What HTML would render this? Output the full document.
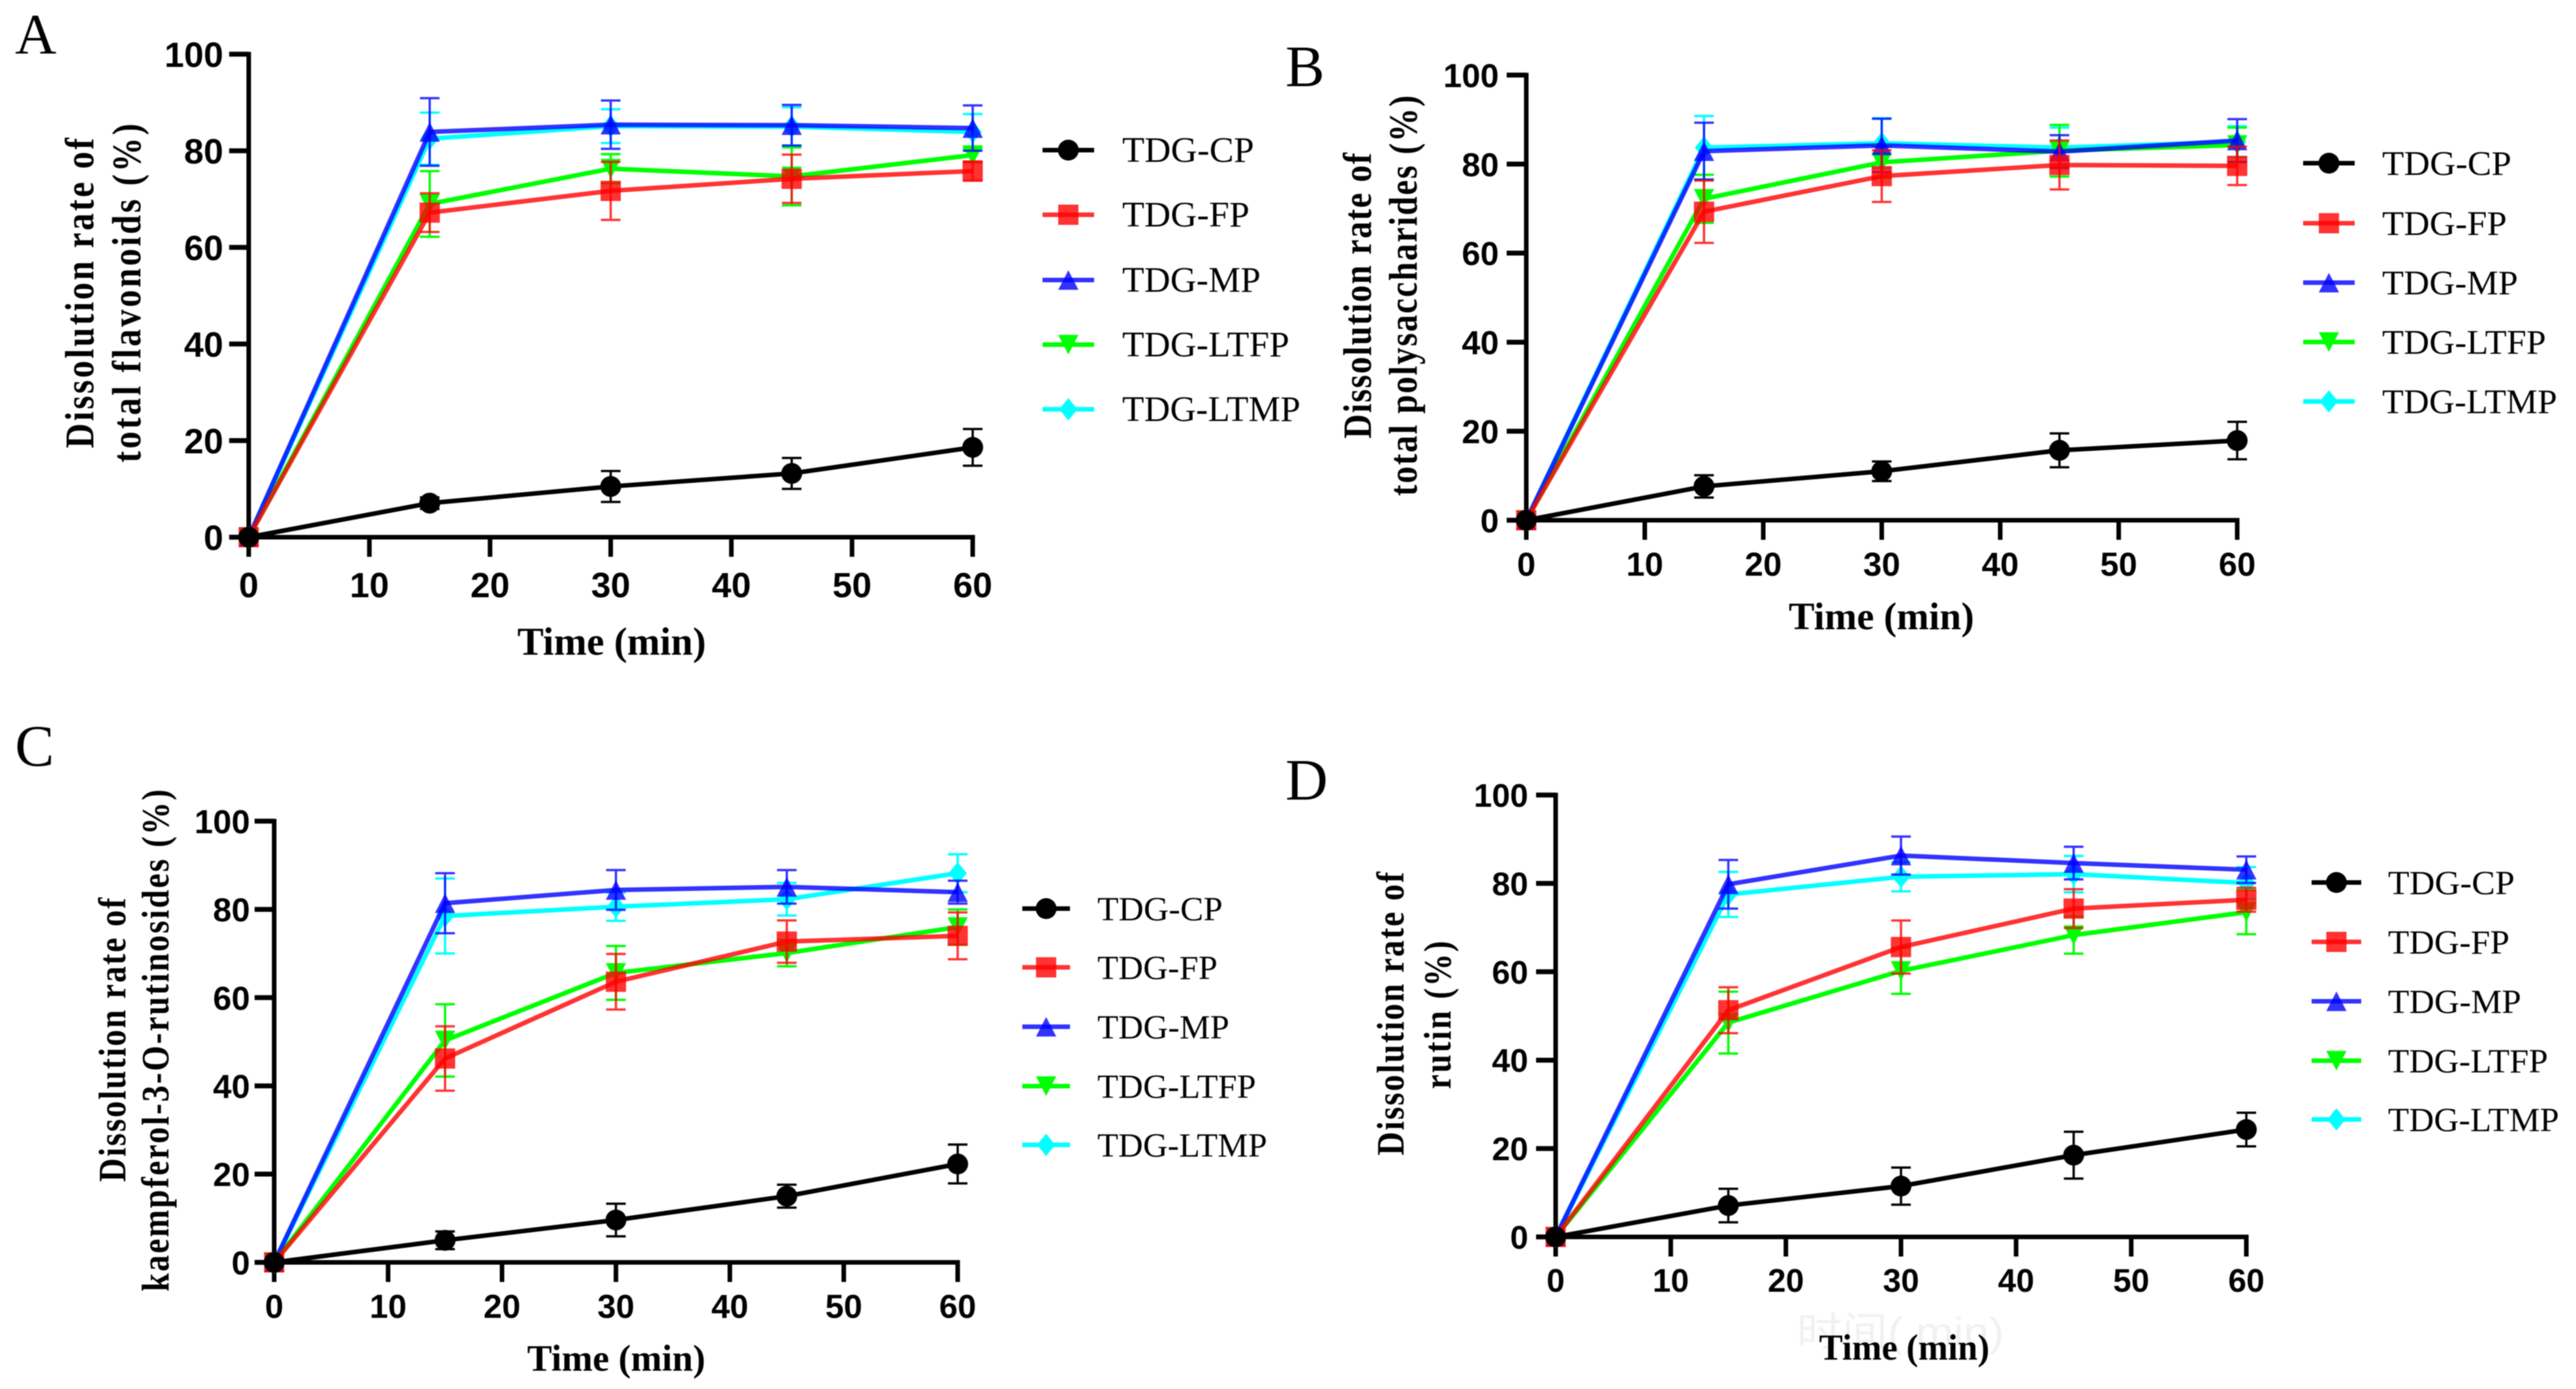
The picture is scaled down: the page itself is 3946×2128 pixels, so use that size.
<!DOCTYPE html>
<html lang="en">
<head>
<meta charset="utf-8">
<title>Dissolution rate charts</title>
<style>
html,body{margin:0;padding:0;background:#fff;}
#figure{display:block;width:3946px;height:2128px;background:#fff;filter:blur(0.7px);}
.serif{font-family:"Liberation Serif","Noto Serif CJK SC",serif;fill:#000;}
.title{font-weight:bold;}
.sans{font-family:"Liberation Sans",sans-serif;font-weight:bold;fill:#000;}
</style>
</head>
<body>
<svg id="figure" xmlns="http://www.w3.org/2000/svg" width="3946" height="2128" viewBox="0 0 3946 2128">
  <rect width="3946" height="2128" fill="#fff"/>

  <text x="2752" y="2062" font-size="62" textLength="318" lengthAdjust="spacingAndGlyphs" fill="#f1f1f1" style="font-family:'Liberation Sans','Noto Sans CJK SC',sans-serif">时间( min)</text>

  <g id="panel-a">
    <text class="serif" x="23" y="82" font-size="88">A</text>
    <text class="serif title" transform="translate(143,449) rotate(-90) scale(0.85,1)" text-anchor="middle" font-size="62" textLength="559" lengthAdjust="spacing">Dissolution rate of</text>
    <text class="serif title" transform="translate(215,449) rotate(-90) scale(0.85,1)" text-anchor="middle" font-size="62" textLength="611" lengthAdjust="spacing">total flavonoids (%)</text>
    <text class="serif title" x="937" y="1003" text-anchor="middle" font-size="60" textLength="289" lengthAdjust="spacingAndGlyphs">Time (min)</text>
    <text class="serif" x="1719" y="248" font-size="55" textLength="202" lengthAdjust="spacingAndGlyphs">TDG-CP</text>
    <text class="serif" x="1719" y="347" font-size="55" textLength="195" lengthAdjust="spacingAndGlyphs">TDG-FP</text>
    <text class="serif" x="1719" y="447" font-size="55" textLength="212" lengthAdjust="spacingAndGlyphs">TDG-MP</text>
    <text class="serif" x="1719" y="546" font-size="55" textLength="256" lengthAdjust="spacingAndGlyphs">TDG-LTFP</text>
    <text class="serif" x="1719" y="645" font-size="55" textLength="273" lengthAdjust="spacingAndGlyphs">TDG-LTMP</text>
  </g>

  <g id="panel-b">
    <text class="serif" x="1969" y="132" font-size="90">B</text>
    <text class="serif title" transform="translate(2100,453) rotate(-90) scale(0.85,1)" text-anchor="middle" font-size="61" textLength="515" lengthAdjust="spacing">Dissolution rate of</text>
    <text class="serif title" transform="translate(2170,453) rotate(-90) scale(0.85,1)" text-anchor="middle" font-size="61" textLength="722" lengthAdjust="spacing">total polysaccharides (%)</text>
    <text class="serif title" x="2882" y="964" text-anchor="middle" font-size="59" textLength="284" lengthAdjust="spacingAndGlyphs">Time (min)</text>
    <text class="serif" x="3649" y="268" font-size="53" textLength="198" lengthAdjust="spacingAndGlyphs">TDG-CP</text>
    <text class="serif" x="3649" y="360" font-size="53" textLength="191" lengthAdjust="spacingAndGlyphs">TDG-FP</text>
    <text class="serif" x="3649" y="451" font-size="53" textLength="208" lengthAdjust="spacingAndGlyphs">TDG-MP</text>
    <text class="serif" x="3649" y="542" font-size="53" textLength="251" lengthAdjust="spacingAndGlyphs">TDG-LTFP</text>
    <text class="serif" x="3649" y="633" font-size="53" textLength="268" lengthAdjust="spacingAndGlyphs">TDG-LTMP</text>
  </g>

  <g id="panel-c">
    <text class="serif" x="23" y="1173" font-size="90">C</text>
    <text class="serif title" transform="translate(192,1593) rotate(-90) scale(0.85,1)" text-anchor="middle" font-size="59" textLength="512" lengthAdjust="spacing">Dissolution rate of</text>
    <text class="serif title" transform="translate(258,1594) rotate(-90) scale(0.85,1)" text-anchor="middle" font-size="59" textLength="905" lengthAdjust="spacing">kaempferol-3-O-rutinosides (%)</text>
    <text class="serif title" x="944" y="2100" text-anchor="middle" font-size="57" textLength="273" lengthAdjust="spacingAndGlyphs">Time (min)</text>
    <text class="serif" x="1681" y="1410" font-size="52" textLength="192" lengthAdjust="spacingAndGlyphs">TDG-CP</text>
    <text class="serif" x="1681" y="1500" font-size="52" textLength="184" lengthAdjust="spacingAndGlyphs">TDG-FP</text>
    <text class="serif" x="1681" y="1591" font-size="52" textLength="202" lengthAdjust="spacingAndGlyphs">TDG-MP</text>
    <text class="serif" x="1681" y="1682" font-size="52" textLength="243" lengthAdjust="spacingAndGlyphs">TDG-LTFP</text>
    <text class="serif" x="1681" y="1772" font-size="52" textLength="260" lengthAdjust="spacingAndGlyphs">TDG-LTMP</text>
  </g>

  <g id="panel-d">
    <text class="serif" x="1969" y="1225" font-size="90">D</text>
    <text class="serif title" transform="translate(2150,1553) rotate(-90) scale(0.85,1)" text-anchor="middle" font-size="59" textLength="511" lengthAdjust="spacing">Dissolution rate of</text>
    <text class="serif title" transform="translate(2222,1555) rotate(-90) scale(0.85,1)" text-anchor="middle" font-size="59" textLength="267" lengthAdjust="spacing">rutin (%)</text>
    <text class="serif title" x="2917" y="2083" text-anchor="middle" font-size="56" textLength="261" lengthAdjust="spacingAndGlyphs">Time (min)</text>
    <text class="serif" x="3658" y="1370" font-size="52" textLength="194" lengthAdjust="spacingAndGlyphs">TDG-CP</text>
    <text class="serif" x="3658" y="1461" font-size="52" textLength="186" lengthAdjust="spacingAndGlyphs">TDG-FP</text>
    <text class="serif" x="3658" y="1552" font-size="52" textLength="204" lengthAdjust="spacingAndGlyphs">TDG-MP</text>
    <text class="serif" x="3658" y="1643" font-size="52" textLength="245" lengthAdjust="spacingAndGlyphs">TDG-LTFP</text>
    <text class="serif" x="3658" y="1733" font-size="52" textLength="262" lengthAdjust="spacingAndGlyphs">TDG-LTMP</text>
  </g>
</svg>

<script>
// Shared axes
const timePoints = [0, 15, 30, 45, 60];
const xTickLabels = [0, 10, 20, 30, 40, 50, 60];
const yTickLabels = [0, 20, 40, 60, 80, 100];

// Panel A: total flavonoids
const aCP = [0, 7.05, 10.5, 13.2, 18.6];
const aCPerr = [0, 1.2, 3.2, 3.2, 3.8];
const aFP = [0, 67.2, 71.7, 74.2, 75.8];
const aFPerr = [0, 4, 6, 5, 2];
const aMP = [0, 83.9, 85.4, 85.3, 84.7];
const aMPerr = [0, 7, 5, 4.2, 4.7];
const aLTFP = [0, 69, 76.3, 74.7, 79.1];
const aLTFPerr = [0, 6.8, 3, 6, 1.5];
const aLTMP = [0, 82.5, 85.1, 85, 83.9];
const aLTMPerr = [0, 5.4, 3.5, 4, 3.7];

// Panel B: total polysaccharides
const bCP = [0, 7.6, 11, 15.7, 17.9];
const bCPerr = [0, 2.5, 2.2, 3.8, 4.2];
const bFP = [0, 69.3, 77.3, 79.8, 79.6];
const bFPerr = [0, 7, 5.8, 5.5, 4.3];
const bMP = [0, 82.9, 84.2, 82.8, 85.3];
const bMPerr = [0, 6.4, 6, 3.7, 4.8];
const bLTFP = [0, 72.2, 80.4, 83, 84.3];
const bLTFPerr = [0, 5.4, 3.5, 5.8, 3.9];
const bLTMP = [0, 83.7, 84.7, 83.7, 85];
const bLTMPerr = [0, 7.1, 5.6, 4.5, 3.5];

// Panel C: kaempferol-3-O-rutinosides
const cCP = [0, 5, 9.6, 15, 22.3];
const cCPerr = [0, 2, 3.7, 2.6, 4.4];
const cFP = [0, 46.2, 63.6, 72.7, 74];
const cFPerr = [0, 7.3, 6.3, 4.8, 5.3];
const cMP = [0, 81.4, 84.4, 85.1, 83.9];
const cMPerr = [0, 6.8, 4.5, 3.8, 2.6];
const cLTFP = [0, 50.3, 65.6, 70.1, 76];
const cLTFPerr = [0, 8.2, 6.1, 3, 4];
const cLTMP = [0, 78.5, 80.6, 82.3, 88.2];
const cLTMPerr = [0, 8.5, 3.2, 3.7, 4.3];

// Panel D: rutin
const dCP = [0, 7.1, 11.5, 18.5, 24.3];
const dCPerr = [0, 3.8, 4.2, 5.3, 3.8];
const dFP = [0, 51.3, 65.6, 74.3, 76.3];
const dFPerr = [0, 5.2, 6, 4.4, 2.7];
const dMP = [0, 79.8, 86.3, 84.6, 83.1];
const dMPerr = [0, 5.5, 4.3, 3.7, 3];
const dLTFP = [0, 48.5, 60.2, 68.3, 73.5];
const dLTFPerr = [0, 7, 5.2, 4.2, 5];
const dLTMP = [0, 77.5, 81.5, 82.1, 80.1];
const dLTMPerr = [0, 5.1, 3.3, 4.1, 3.6];

const styles = {
  CP:   {color: '#000000', opacity: 1,    shape: 'circle'},
  FP:   {color: '#ff0000', opacity: 0.8,  shape: 'square'},
  MP:   {color: '#0000ff', opacity: 0.8,  shape: 'triangle'},
  LTFP: {color: '#00ff00', opacity: 1,    shape: 'invtriangle'},
  LTMP: {color: '#00ffff', opacity: 1,    shape: 'diamond'}
};

// Draw order back to front
const drawOrder = ['LTMP', 'LTFP', 'MP', 'FP', 'CP'];
const legendOrder = ['CP', 'FP', 'MP', 'LTFP', 'LTMP'];

const panels = [
  {id: 'panel-a', x0: 381, x60: 1490, y0: 823, y100: 83, tickFont: 54, yLabelRight: 342, xLabelY: 915,
   legendX1: 1597, legendX2: 1676, legendY: [230, 329, 429, 528, 627],
   data: {CP: [aCP, aCPerr], FP: [aFP, aFPerr], MP: [aMP, aMPerr], LTFP: [aLTFP, aLTFPerr], LTMP: [aLTMP, aLTMPerr]}},
  {id: 'panel-b', x0: 2338, x60: 3427, y0: 797, y100: 115, tickFont: 51, yLabelRight: 2296, xLabelY: 882,
   legendX1: 3528, legendX2: 3607, legendY: [250, 342, 433, 524, 615],
   data: {CP: [bCP, bCPerr], FP: [bFP, bFPerr], MP: [bMP, bMPerr], LTFP: [bLTFP, bLTFPerr], LTMP: [bLTMP, bLTMPerr]}},
  {id: 'panel-c', x0: 420, x60: 1467, y0: 1934, y100: 1258, tickFont: 51, yLabelRight: 383, xLabelY: 2019,
   legendX1: 1566, legendX2: 1639, legendY: [1392, 1482, 1573, 1664, 1754],
   data: {CP: [cCP, cCPerr], FP: [cFP, cFPerr], MP: [cMP, cMPerr], LTFP: [cLTFP, cLTFPerr], LTMP: [cLTMP, cLTMPerr]}},
  {id: 'panel-d', x0: 2383, x60: 3441, y0: 1895, y100: 1218, tickFont: 50, yLabelRight: 2341, xLabelY: 1979,
   legendX1: 3541, legendX2: 3617, legendY: [1352, 1443, 1534, 1625, 1715],
   data: {CP: [dCP, dCPerr], FP: [dFP, dFPerr], MP: [dMP, dMPerr], LTFP: [dLTFP, dLTFPerr], LTMP: [dLTMP, dLTMPerr]}}
];

const SVG_NS = 'http://www.w3.org/2000/svg';

function mk(parent, tag, attrs) {
  const node = document.createElementNS(SVG_NS, tag);
  for (const k in attrs) node.setAttribute(k, attrs[k]);
  parent.appendChild(node);
  return node;
}

function drawMarker(parent, shape, cx, cy, color, opacity) {
  let m;
  if (shape === 'circle') {
    m = mk(parent, 'circle', {cx: cx, cy: cy, r: 16, fill: color, 'fill-opacity': opacity});
  } else if (shape === 'square') {
    m = mk(parent, 'rect', {x: cx - 15.5, y: cy - 15.5, width: 31, height: 31, fill: color, 'fill-opacity': opacity});
  } else if (shape === 'triangle') {
    m = mk(parent, 'polygon', {points: (cx) + ',' + (cy - 15) + ' ' + (cx + 15.5) + ',' + (cy + 15) + ' ' + (cx - 15.5) + ',' + (cy + 15), fill: color, 'fill-opacity': opacity});
  } else if (shape === 'invtriangle') {
    m = mk(parent, 'polygon', {points: (cx) + ',' + (cy + 15) + ' ' + (cx + 15.5) + ',' + (cy - 15) + ' ' + (cx - 15.5) + ',' + (cy - 15), fill: color, 'fill-opacity': opacity});
  } else {
    m = mk(parent, 'polygon', {points: (cx) + ',' + (cy - 17) + ' ' + (cx + 14) + ',' + (cy) + ' ' + (cx) + ',' + (cy + 17) + ' ' + (cx - 14) + ',' + (cy), fill: color, 'fill-opacity': opacity});
  }
  
  
}

panels.forEach(function (p) {
  const root = document.getElementById(p.id);
  const xScale = function (v) { return p.x0 + (p.x60 - p.x0) * v / 60; };
  const yScale = function (v) { return p.y0 - (p.y0 - p.y100) * v / 100; };

  // Axes
  const axes = mk(root, 'g', {stroke: '#000', 'stroke-width': 7, fill: 'none'});
  
  

  const yLine = mk(axes, 'line', {x1: p.x0, x2: p.x0, y1: yScale(100) - 3.5, y2: yScale(0) + 3.5});
  
  

  const xLine = mk(axes, 'line', {x1: p.x0, x2: xScale(60) + 3.5, y1: yScale(0), y2: yScale(0)});
  
  

  yTickLabels.forEach(function (v) {
    const t = mk(axes, 'line', {x1: p.x0 - 30, x2: p.x0, y1: yScale(v), y2: yScale(v), 'stroke-width': 7.5});
    
    
    const l = mk(root, 'text', {x: p.yLabelRight, y: yScale(v) + p.tickFont * 0.36, 'text-anchor': 'end', 'font-size': p.tickFont, class: 'sans'});
    
    
    l.textContent = v;
  });

  xTickLabels.forEach(function (v) {
    const t = mk(axes, 'line', {x1: xScale(v), x2: xScale(v), y1: yScale(0), y2: yScale(0) + 30});
    
    
    const l = mk(root, 'text', {x: xScale(v), y: p.xLabelY, 'text-anchor': 'middle', 'font-size': p.tickFont, class: 'sans'});
    
    
    l.textContent = v;
  });

  // Series
  drawOrder.forEach(function (key) {
    const s = styles[key];
    const values = p.data[key][0];
    const errors = p.data[key][1];
    const g = mk(root, 'g', {});
    
    

    timePoints.forEach(function (t, i) {
      if (!errors[i]) return;
      const cx = xScale(t);
      const top = yScale(values[i] + errors[i]);
      const bottom = yScale(values[i] - errors[i]);
      const bar = mk(g, 'path', {
        d: 'M' + (cx - 15) + ' ' + top + 'H' + (cx + 15) + 'M' + cx + ' ' + top + 'V' + bottom + 'M' + (cx - 15) + ' ' + bottom + 'H' + (cx + 15),
        fill: 'none', stroke: s.color, 'stroke-width': 3.5, 'stroke-opacity': s.opacity
      });
      
      
    });

    const pts = timePoints.map(function (t, i) { return xScale(t) + ',' + yScale(values[i]); }).join(' ');
    const line = mk(g, 'polyline', {points: pts, fill: 'none', stroke: s.color, 'stroke-width': 7, 'stroke-opacity': s.opacity, 'stroke-linejoin': 'miter'});
    
    

    timePoints.forEach(function (t, i) {
      drawMarker(g, s.shape, xScale(t), yScale(values[i]), s.color, s.opacity);
    });
  });

  // Legend swatches
  legendOrder.forEach(function (key, i) {
    const s = styles[key];
    const y = p.legendY[i];
    const g = mk(root, 'g', {});
    
    
    const line = mk(g, 'line', {x1: p.legendX1, x2: p.legendX2, y1: y, y2: y, stroke: s.color, 'stroke-width': 7, 'stroke-opacity': s.opacity});
    
    
    drawMarker(g, s.shape, (p.legendX1 + p.legendX2) / 2, y, s.color, s.opacity);
  });
});
</script>
</body>
</html>
